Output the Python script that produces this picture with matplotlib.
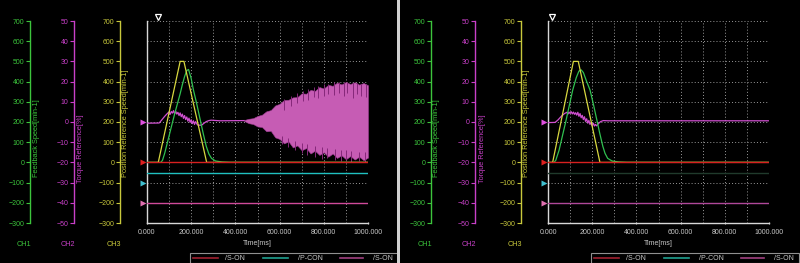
import numpy as np
import matplotlib.pyplot as plt
from matplotlib import transforms
from matplotlib.lines import Line2D
from matplotlib.patches import Rectangle

W, H = 800, 263
plt.rcParams['font.family'] = ['Liberation Sans', 'DejaVu Sans']

# channel scales
ch_speed_lim = (-300, 700)
ch_torque_lim = (-50, 50)
speed_ticks = np.arange(-300, 701, 100)
torque_ticks = np.arange(-50, 51, 10)
time_ticks = [0, 200, 400, 600, 800, 1000]
time_labels = ['0.000', '200.000', '400.000', '600.000', '800.000', '1000.000']
ch_names = ['CH1', 'CH2', 'CH3']
ch_titles = ['Feedback Speed[min-1]', 'Torque Reference[%]', 'Position Reference Speed[min-1]']
legend_names = ['/S-ON', '/P-CON', '/S-ON']

# left panel (oscillating)
L_pos_t = [0, 51, 150, 167, 270, 1000]
L_pos_v = [0, 0, 500, 500, 0, 0]
L_fb_t = [0, 62, 70, 80, 95, 110, 125, 140, 150, 160, 170, 180, 188, 200, 210, 225, 240,
          255, 268, 280, 292, 310, 340, 375, 1000]
L_fb_v = [0, 0, 10, 45, 110, 175, 240, 300, 340, 385, 425, 455, 460, 415, 359, 290, 215,
          140, 80, 42, 20, 7, 2, 0, 0]
L_trq_t = [0, 55, 68, 80, 92, 100, 105, 110, 115, 120, 125, 130, 135, 140, 145, 150, 155,
           160, 165, 170, 175, 180, 185, 190, 195, 200, 205, 210, 215, 220, 228, 238, 248,
           258, 268, 280, 290, 330, 440]
L_trq_v = [-0.6, -0.5, 1.2, 2.8, 4.2, 5.0, 3.8, 5.2, 4.4, 5.6, 4.1, 5.3, 3.9, 4.8, 3.2, 4.5,
           2.6, 3.9, 1.8, 3.2, 1.2, 2.5, 0.4, 1.9, -0.2, 1.1, -0.8, 0.6, -1.2, 0.2, -1.4,
           -1.6, -1.5, -0.6, 0.2, 0.7, 0.9, 0.6, 0.7]
# envelope of the growing torque oscillation [%]
L_osc_t = [440, 460, 480, 500, 520, 540, 560, 580, 600, 620, 640, 660, 680, 700, 720, 740,
           760, 780, 800, 820, 840, 860, 880, 900, 920, 940, 960, 980, 1000]
L_osc_hi = [1.0, 1.6, 1.9, 3.0, 3.6, 5.3, 5.9, 8.2, 9.0, 10.9, 11.0, 12.2, 12.3, 14.2, 14.0,
            15.9, 15.4, 17.3, 16.6, 18.4, 17.9, 19.5, 18.6, 19.8, 18.8, 19.7, 18.5, 19.3, 18.2]
L_osc_lo = [0.5, -0.6, -1.0, -2.2, -2.5, -4.6, -4.4, -7.6, -8.4, -10.6, -9.6, -12.6, -11.6,
            -14.0, -12.9, -15.6, -14.2, -16.3, -15.0, -17.2, -15.6, -17.8, -16.5, -18.4,
            -16.9, -18.6, -17.2, -18.9, -17.6]
# darker streaks inside / outside the oscillation band [%]
L_spk_t = [620, 650, 680, 705, 730, 755, 775, 800, 820, 845, 870, 890, 905, 930, 950, 970,
           990, 610, 640, 670, 700, 725, 760, 790, 815, 850, 880, 900, 925, 960, 985]
L_spk_top = [11.5, 12.8, 14.5, 15.2, 16.3, 17.2, 17.8, 18.8, 19.0, 19.6, 19.8, 19.9, 19.7,
             19.5, 19.3, 19.0, 18.8, -7.0, -8.0, -9.5, -10.5, -11.0, -12.0, -12.5, -13.0,
             -13.5, -14.0, -14.0, -14.5, -15.0, -15.0]
L_spk_bot = [6.0, 8.0, 9.5, 10.5, 11.0, 12.5, 12.0, 13.0, 14.0, 13.5, 14.5, 13.0, 14.5, 12.0,
             14.0, 13.0, 12.5, -11.0, -12.5, -14.0, -15.5, -16.5, -17.5, -18.5, -18.0, -19.0,
             -19.5, -19.0, -19.8, -19.5, -19.8]
L_trig = 50

# right panel (settled)
R_pos_t = [0, 21, 115, 137, 235, 1000]
R_pos_v = [0, 0, 500, 500, 0, 0]
R_fb_t = [0, 27, 35, 50, 65, 80, 95, 112, 128, 140, 150, 160, 175, 190, 205, 220, 235, 248,
          258, 270, 290, 320, 356, 1000]
R_fb_v = [0, 0, 10, 60, 130, 200, 275, 359, 420, 452, 458, 445, 400, 359, 290, 215, 140, 80,
          45, 20, 7, 2, 0, 0]
R_trq_t = [0, 32, 45, 60, 75, 85, 90, 95, 100, 105, 110, 115, 120, 125, 130, 135, 140, 145,
           150, 155, 160, 165, 170, 175, 180, 185, 190, 195, 200, 205, 210, 215, 220, 228,
           238, 250, 270, 1000]
R_trq_v = [-0.3, -0.2, 1.0, 2.8, 4.2, 4.8, 3.9, 4.9, 4.2, 5.1, 4.0, 4.9, 3.8, 4.6, 3.4, 4.8,
           2.8, 4.2, 2.1, 3.3, 1.2, 2.6, 0.3, 1.6, -0.6, 0.8, -1.2, -0.2, -1.8, -0.6, -2.0,
           -1.2, -1.9, -0.8, 0.2, 0.7, 0.6, 0.6]
R_trig = 18

# digital signals: level on speed axis for each trace
sig_t = [0, 1000]
L_son = [0, 0]
L_pcon = [-50, -50]
L_son2 = [-200, -200]
R_son = [0, 0]
R_pcon = [-50, -50]
R_son2 = [-200, -200]
marker_levels = [200, 0, -100, -200]

GREEN = '#3cc43c'
MAGENTA = '#c840c8'
YELLOW = '#c8c83c'
TXT = '#c8c8c8'


def px_axes(fig, x0, y0, x1, y1):
    return fig.add_axes([x0 / W, 1 - y1 / H, (x1 - x0) / W, (y1 - y0) / H])


def torque_to_speed(p):
    p = np.asarray(p, dtype=float)
    lo, hi = ch_torque_lim
    slo, shi = ch_speed_lim
    return slo + (p - lo) / (hi - lo) * (shi - slo)


def channel_axis(fig, x, color, lim, ticks, title, title_dx, title_bottom, name):
    a = px_axes(fig, x, 21, x + 1, 223)
    a.set_facecolor('none')
    a.set_ylim(*lim)
    a.set_xticks([])
    a.set_yticks(ticks)
    a.tick_params(axis='y', colors=color, labelsize=5, length=3, width=0.8, pad=1)
    for s in ['top', 'right', 'bottom']:
        a.spines[s].set_visible(False)
    a.spines['left'].set_color(color)
    a.spines['left'].set_linewidth(1.0)
    fig.text((x + title_dx) / W, 1 - title_bottom / H, title, rotation=90, color=color,
             fontsize=5.3, ha='center', va='bottom')
    fig.text((x - 6) / W, 1 - 244 / H, name, color=color, fontsize=5.2, ha='center', va='center')


def draw_panel(fig, ox, pos_t, pos_v, fb_t, fb_v, trq_t, trq_v, osc, spikes, son, pcon, son2,
               pcon_color, son2_color, trig):
    channel_axis(fig, ox + 30, GREEN, ch_speed_lim, speed_ticks, ch_titles[0], 6, 177, ch_names[0])
    channel_axis(fig, ox + 74, MAGENTA, ch_torque_lim, torque_ticks, ch_titles[1], 7, 183, ch_names[1])
    channel_axis(fig, ox + 120, YELLOW, ch_speed_lim, speed_ticks, ch_titles[2], 5.5, 177, ch_names[2])

    ax = px_axes(fig, ox + 147, 21, ox + 368, 223)
    ax.set_facecolor('black')
    ax.set_xlim(0, 1000)
    ax.set_ylim(*ch_speed_lim)
    for s in ['top', 'right']:
        ax.spines[s].set_visible(False)
    for s in ['left', 'bottom']:
        ax.spines[s].set_color('#d8d8d8')
        ax.spines[s].set_linewidth(1.0)
    ax.set_yticks([])
    ax.set_xticks(time_ticks)
    ax.set_xticklabels(time_labels)
    ax.tick_params(axis='x', colors=TXT, labelsize=5, length=2, direction='inout', pad=3)
    for t in range(100, 1001, 100):
        ax.axvline(t, color='#9a9a9a', lw=0.7, ls=(0, (1, 2.2)), zorder=1)
    for v in range(-200, 701, 100):
        ax.axhline(v, color='#9a9a9a', lw=0.7, ls=(0, (1, 2.2)), zorder=1)
    ax.set_xlabel('Time[ms]', color=TXT, fontsize=5, labelpad=3)

    ax.plot(trq_t, torque_to_speed(trq_v), color='#d050d0', lw=0.9, zorder=4)
    if osc is not None:
        ot, ohi, olo = osc
        ax.fill_between(ot, torque_to_speed(olo), torque_to_speed(ohi), color='#c65cb4',
                        lw=0.4, edgecolor='#a03c94', zorder=4)
    if spikes is not None:
        st, stop, sbot = spikes
        ax.vlines(st, torque_to_speed(sbot), torque_to_speed(stop), color='#86287a',
                  lw=0.7, zorder=4)
    ax.plot(fb_t, fb_v, color='#30c050', lw=0.9, zorder=5)
    ax.plot(pos_t, pos_v, color='#d8d840', lw=0.9, zorder=6)

    ax.plot(sig_t, son, color='#d82020', lw=1.0, zorder=7)
    ax.plot(sig_t, pcon, color=pcon_color, lw=1.0, zorder=7)
    ax.plot(sig_t, son2, color=son2_color, lw=1.0, zorder=7)

    tr = transforms.blended_transform_factory(ax.transAxes, ax.transData)
    for lvl, c in zip(marker_levels, ['#e050e0', '#e02020', '#40c0d0', '#e070b0']):
        ax.plot([-0.02], [lvl], marker='>', ms=4, color=c, mec='none', transform=tr,
                clip_on=False, zorder=8)
    trt = transforms.blended_transform_factory(ax.transData, ax.transAxes)
    ax.plot([trig], [1.02], marker='v', ms=5, mfc='none', mec='white', mew=0.9,
            transform=trt, clip_on=False)

    # legend strip at the bottom
    box_l = ox + 190
    box_r = min(ox + 398, W)
    fig.patches.append(Rectangle((box_l / W, 0), (box_r - box_l) / W, (H - 253) / H,
                                 transform=fig.transFigure, fc='black', ec='#909090',
                                 lw=0.8))
    lines_x = [(193, 218), (263, 288), (340, 363)]
    texts_x = [225, 298, 373]
    colors = ['#a02030', '#20a090', '#a04080']
    for (a, b), tx, c, name in zip(lines_x, texts_x, colors, legend_names):
        fig.lines.append(Line2D([(ox + a) / W, (ox + b) / W], [1 - 258 / H, 1 - 258 / H],
                                transform=fig.transFigure, color=c, lw=1.2))
        fig.text((ox + tx) / W, 1 - 258 / H, name, color=TXT, fontsize=5, va='center')


fig = plt.figure(figsize=(W / 100, H / 100), dpi=100, facecolor='black')

draw_panel(fig, 0, L_pos_t, L_pos_v, L_fb_t, L_fb_v, L_trq_t, L_trq_v,
           (L_osc_t, L_osc_hi, L_osc_lo), (L_spk_t, L_spk_top, L_spk_bot),
           L_son, L_pcon, L_son2, '#20c0c0', '#d04a9a', L_trig)
draw_panel(fig, 401, R_pos_t, R_pos_v, R_fb_t, R_fb_v, R_trq_t, R_trq_v,
           None, None, R_son, R_pcon, R_son2, '#203a2c', '#b0489a', R_trig)

# separator between the two screens
fig.patches.append(Rectangle((397 / W, 0), 3 / W, 1, transform=fig.transFigure,
                             fc='#d0d0d0', ec='none'))

fig.savefig('out.png', dpi=100, facecolor='black')
